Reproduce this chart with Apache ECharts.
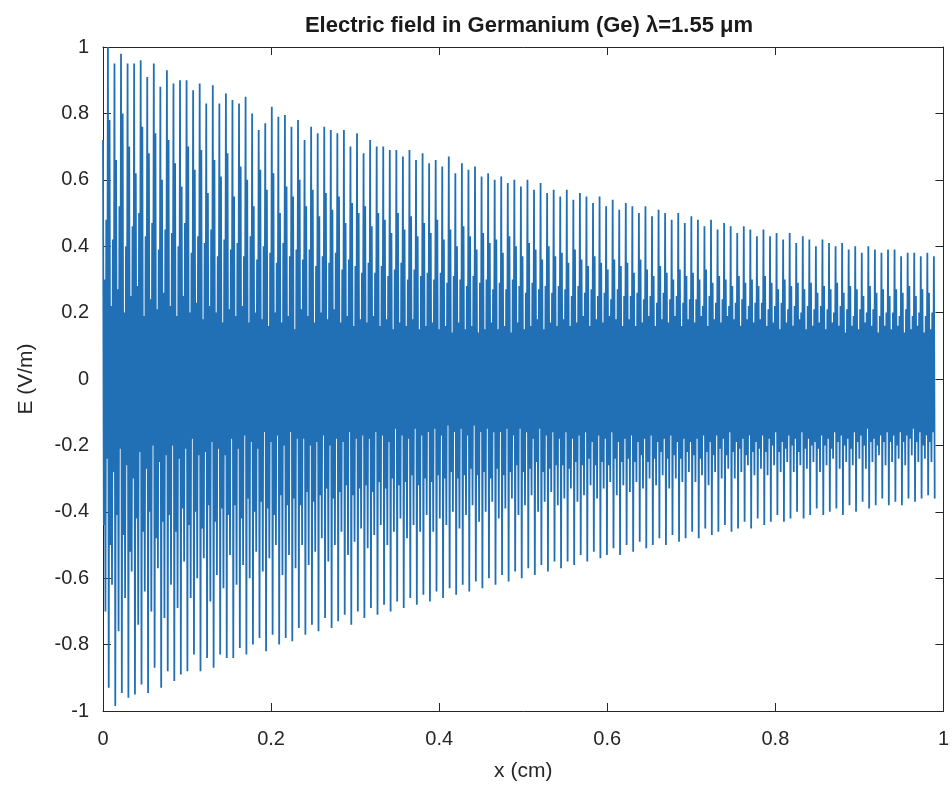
<!DOCTYPE html>
<html>
<head>
<meta charset="utf-8">
<script src="https://cdn.jsdelivr.net/npm/echarts@6/dist/echarts.min.js"></script>
<style>html,body{margin:0;padding:0;background:#fff}#c{width:952px;height:796px}</style>
</head>
<body>
<div id="c"></div>
<script>
// Tick labels
var xTicks = [0, 0.2, 0.4, 0.6, 0.8, 1];
var yTicks = [-1, -0.8, -0.6, -0.4, -0.2, 0, 0.2, 0.4, 0.6, 0.8, 1];

// Sample spacing along x (cm) for the plotted field samples
var xStep = 0.000975;

// Read-off heights of the tall positive spikes (one per visible spike group)
var topPeak = [
 1.00,0.95,0.98,0.95,0.95,0.96,0.91,0.95,0.88,0.93,
 0.89,0.90,0.90,0.87,0.89,0.83,0.885,0.83,0.86,0.84,
 0.83,0.85,0.80,0.75,0.77,0.82,0.79,0.795,0.76,0.78,
 0.72,0.76,0.74,0.76,0.75,0.74,0.75,0.70,0.74,0.68,
 0.72,0.70,0.70,0.69,0.69,0.67,0.69,0.66,0.68,0.65,
 0.66,0.64,0.67,0.62,0.65,0.63,0.64,0.61,0.62,0.60,
 0.61,0.59,0.60,0.58,0.60,0.57,0.59,0.56,0.57,0.55,
 0.57,0.54,0.56,0.55,0.53,0.55,0.52,0.54,0.51,0.53,
 0.52,0.50,0.52,0.49,0.51,0.50,0.48,0.50,0.47,0.49,
 0.48,0.46,0.48,0.45,0.47,0.46,0.44,0.46,0.45,0.43,
 0.45,0.43,0.44,0.42,0.44,0.41,0.43,0.42,0.40,0.42,
 0.41,0.40,0.41,0.39,0.40,0.38,0.40,0.39,0.38,0.39,
 0.39,0.37,0.38,0.38,0.37,0.38,0.37
];
// Read-off depths of the tall negative spikes
var bottomPeak = [
 -0.93,-0.985,-0.946,-0.96,-0.95,-0.92,-0.946,-0.87,-0.93,-0.88,
 -0.91,-0.89,-0.88,-0.83,-0.88,-0.84,-0.87,-0.83,-0.84,-0.84,
 -0.81,-0.83,-0.80,-0.78,-0.82,-0.77,-0.80,-0.78,-0.79,-0.75,
 -0.77,-0.74,-0.76,-0.72,-0.75,-0.73,-0.71,-0.74,-0.70,-0.72,
 -0.69,-0.71,-0.68,-0.70,-0.67,-0.69,-0.66,-0.68,-0.65,-0.67,
 -0.64,-0.66,-0.63,-0.65,-0.62,-0.64,-0.61,-0.63,-0.60,-0.62,
 -0.59,-0.61,-0.58,-0.60,-0.57,-0.59,-0.56,-0.58,-0.55,-0.57,
 -0.55,-0.56,-0.53,-0.55,-0.52,-0.54,-0.53,-0.51,-0.53,-0.50,
 -0.52,-0.49,-0.51,-0.50,-0.48,-0.50,-0.47,-0.49,-0.48,-0.46,
 -0.48,-0.45,-0.47,-0.46,-0.44,-0.46,-0.45,-0.43,-0.45,-0.42,
 -0.44,-0.43,-0.41,-0.43,-0.42,-0.40,-0.42,-0.41,-0.39,-0.41,
 -0.40,-0.39,-0.41,-0.38,-0.40,-0.37,-0.39,-0.38,-0.36,-0.38,
 -0.37,-0.38,-0.36,-0.37,-0.36,-0.35,-0.36
];
// Read-off tops of the shorter (darker) positive lines
var midTop = [
 0.72,0.78,0.66,0.80,0.70,0.62,0.76,0.68,0.74,0.60,
 0.72,0.65,0.58,0.70,0.63,0.69,0.56,0.66,0.61,0.68,
 0.55,0.64,0.60,0.52,0.63,0.57,0.62,0.50,0.58,0.55,
 0.60,0.52,0.57,0.49,0.56,0.51,0.55,0.47,0.53,0.50,
 0.52,0.46,0.50,0.48,0.44,0.50,0.45,0.49,0.43,0.47,
 0.44,0.48,0.42,0.45,0.40,0.46,0.43,0.39,0.44,0.41,
 0.42,0.38,0.43,0.40,0.37,0.41,0.39,0.36,0.40,0.37,
 0.38,0.35,0.39,0.36,0.34,0.37,0.35,0.33,0.36,0.34,
 0.35,0.32,0.36,0.33,0.31,0.34,0.32,0.30,0.33,0.31,
 0.32,0.30,0.33,0.29,0.31,0.30,0.28,0.31,0.29,0.30,
 0.28,0.31,0.29,0.27,0.30,0.28,0.29,0.27,0.29,0.26,
 0.28,0.27,0.29,0.26,0.28,0.27,0.25,0.28,0.26,0.27,
 0.25,0.27,0.26,0.28,0.25,0.27,0.26
];
// Read-off bottoms of the shorter negative lines
var midBottom = [
 -0.70,-0.62,-0.76,-0.66,-0.58,-0.74,-0.64,-0.70,-0.57,-0.72,
 -0.62,-0.69,-0.55,-0.66,-0.60,-0.54,-0.67,-0.59,-0.63,-0.53,
 -0.62,-0.56,-0.60,-0.52,-0.58,-0.54,-0.50,-0.59,-0.53,-0.57,
 -0.50,-0.56,-0.52,-0.48,-0.55,-0.50,-0.46,-0.53,-0.49,-0.45,
 -0.51,-0.47,-0.44,-0.50,-0.46,-0.42,-0.48,-0.44,-0.46,-0.41,
 -0.46,-0.42,-0.44,-0.40,-0.45,-0.41,-0.38,-0.43,-0.40,-0.37,
 -0.42,-0.39,-0.36,-0.41,-0.38,-0.35,-0.40,-0.37,-0.34,-0.38,
 -0.36,-0.33,-0.37,-0.35,-0.32,-0.36,-0.33,-0.31,-0.35,-0.32,
 -0.34,-0.31,-0.33,-0.30,-0.32,-0.29,-0.33,-0.30,-0.31,-0.28,
 -0.31,-0.29,-0.32,-0.28,-0.30,-0.27,-0.30,-0.28,-0.26,-0.29,
 -0.27,-0.29,-0.26,-0.28,-0.25,-0.28,-0.26,-0.27,-0.25,-0.28,
 -0.26,-0.24,-0.27,-0.25,-0.26,-0.24,-0.27,-0.25,-0.23,-0.26,
 -0.25,-0.24,-0.26,-0.23,-0.25,-0.24,-0.25
];
// Read-off tops of the medium-length positive lines
var innerTop = [
 0.48,0.42,0.52,0.40,0.46,0.50,0.43,0.47,0.39,0.45,
 0.44,0.40,0.47,0.38,0.43,0.41,0.45,0.37,0.42,0.39,
 0.41,0.37,0.43,0.36,0.40,0.38,0.35,0.41,0.37,0.39,
 0.36,0.39,0.34,0.37,0.35,0.38,0.33,0.36,0.34,0.32,
 0.35,0.32,0.34,0.31,0.33,0.35,0.30,0.33,0.31,0.32,
 0.30,0.32,0.29,0.31,0.30,0.28,0.31,0.29,0.30,0.27,
 0.29,0.27,0.30,0.28,0.26,0.29,0.27,0.28,0.26,0.28,
 0.27,0.25,0.28,0.26,0.27,0.25,0.26,0.24,0.27,0.25,
 0.25,0.26,0.24,0.25,0.23,0.26,0.24,0.25,0.23,0.24,
 0.24,0.22,0.25,0.23,0.24,0.22,0.23,0.24,0.22,0.23,
 0.23,0.21,0.22,0.23,0.21,0.22,0.20,0.22,0.21,0.22,
 0.21,0.20,0.22,0.21,0.19,0.21,0.20,0.21,0.19,0.20,
 0.20,0.19,0.21,0.19,0.20,0.19,0.20
];
// Read-off bottoms of the medium-length negative lines
var innerBottom = [
 -0.44,-0.50,-0.41,-0.47,-0.52,-0.42,-0.46,-0.40,-0.48,-0.43,
 -0.41,-0.46,-0.39,-0.44,-0.40,-0.45,-0.38,-0.43,-0.39,-0.41,
 -0.38,-0.42,-0.36,-0.40,-0.37,-0.39,-0.41,-0.35,-0.38,-0.36,
 -0.38,-0.34,-0.37,-0.35,-0.33,-0.36,-0.34,-0.32,-0.35,-0.33,
 -0.32,-0.34,-0.31,-0.33,-0.30,-0.32,-0.31,-0.29,-0.32,-0.30,
 -0.31,-0.29,-0.30,-0.28,-0.30,-0.29,-0.27,-0.29,-0.28,-0.30,
 -0.27,-0.29,-0.28,-0.26,-0.28,-0.27,-0.25,-0.28,-0.27,-0.26,
 -0.26,-0.27,-0.25,-0.26,-0.24,-0.26,-0.25,-0.26,-0.24,-0.25,
 -0.24,-0.25,-0.23,-0.25,-0.24,-0.22,-0.24,-0.23,-0.24,-0.22,
 -0.23,-0.24,-0.22,-0.23,-0.21,-0.23,-0.22,-0.21,-0.23,-0.22,
 -0.21,-0.22,-0.20,-0.22,-0.21,-0.20,-0.22,-0.21,-0.20,-0.21,
 -0.20,-0.21,-0.19,-0.20,-0.21,-0.19,-0.20,-0.19,-0.20,-0.19,
 -0.19,-0.20,-0.19,-0.18,-0.19,-0.20,-0.19
];
// Read-off edge of the dense core, upper side
var coreTop = [
 0.30,0.22,0.27,0.20,0.25,0.28,0.19,0.24,0.21,0.26,
 0.22,0.19,0.25,0.20,0.23,0.18,0.22,0.20,0.17,0.21,
 0.19,0.22,0.17,0.20,0.18,0.16,0.20,0.17,0.19,0.15,
 0.21,0.19,0.17,0.20,0.18,0.21,0.17,0.19,0.16,0.18,
 0.17,0.19,0.16,0.18,0.15,0.17,0.16,0.18,0.15,0.16,
 0.17,0.15,0.16,0.14,0.17,0.15,0.16,0.14,0.15,0.17,
 0.15,0.16,0.14,0.17,0.15,0.16,0.18,0.15,0.17,0.16,
 0.18,0.16,0.17,0.19,0.16,0.18,0.17,0.19,0.18,0.16,
 0.18,0.16,0.17,0.19,0.16,0.18,0.17,0.19,0.16,0.18,
 0.17,0.19,0.16,0.18,0.17,0.19,0.18,0.16,0.18,0.17,
 0.18,0.16,0.17,0.15,0.17,0.16,0.18,0.15,0.16,0.17,
 0.15,0.17,0.16,0.14,0.16,0.15,0.17,0.16,0.14,0.16,
 0.15,0.16,0.14,0.15,0.16,0.14,0.15
];
// Read-off edge of the dense core, lower side
var coreBottom = [
 -0.24,-0.28,-0.21,-0.26,-0.30,-0.22,-0.27,-0.20,-0.25,-0.23,
 -0.20,-0.24,-0.21,-0.18,-0.23,-0.22,-0.19,-0.21,-0.23,-0.18,
 -0.21,-0.17,-0.19,-0.21,-0.16,-0.19,-0.17,-0.20,-0.16,-0.18,
 -0.18,-0.20,-0.19,-0.17,-0.20,-0.18,-0.19,-0.16,-0.18,-0.17,
 -0.18,-0.16,-0.17,-0.19,-0.15,-0.17,-0.18,-0.15,-0.17,-0.16,
 -0.15,-0.17,-0.14,-0.16,-0.15,-0.17,-0.14,-0.16,-0.15,-0.16,
 -0.16,-0.15,-0.17,-0.15,-0.16,-0.18,-0.15,-0.17,-0.16,-0.18,
 -0.16,-0.18,-0.17,-0.16,-0.19,-0.17,-0.18,-0.16,-0.19,-0.18,
 -0.17,-0.19,-0.18,-0.17,-0.19,-0.18,-0.17,-0.19,-0.18,-0.19,
 -0.18,-0.17,-0.19,-0.17,-0.18,-0.16,-0.19,-0.18,-0.17,-0.19,
 -0.17,-0.18,-0.16,-0.19,-0.17,-0.18,-0.16,-0.18,-0.19,-0.17,
 -0.18,-0.16,-0.17,-0.18,-0.16,-0.17,-0.15,-0.18,-0.17,-0.16,
 -0.17,-0.16,-0.17,-0.15,-0.16,-0.17,-0.16
];

// Assemble the sampled trace: each spike group holds eight consecutive samples.
var trace = [];
var idx = 0;
for (var k = 0; k < topPeak.length; k++) {
  var grp = [midTop[k], innerBottom[k], coreTop[k], midBottom[k],
             innerTop[k], coreBottom[k], topPeak[k], bottomPeak[k]];
  for (var j = 0; j < grp.length; j++) {
    trace.push([idx * xStep, grp[j]]);
    idx++;
  }
}

var txt = '#262626';
var font = 'Liberation Sans, Arial, Helvetica, sans-serif';
var chart = echarts.init(document.getElementById('c'), null, {renderer: 'canvas'});
chart.setOption({
  animation: false,
  backgroundColor: '#ffffff',
  title: {
    text: 'Electric field in Germanium (Ge) \u03bb=1.55 \u03bcm',
    left: 524, top: 10, textAlign: 'center',
    textStyle: {fontFamily: font, fontSize: 22, fontWeight: 'bold', color: '#1a1a1a'}
  },
  grid: {left: 103, right: 8, top: 47, bottom: 85, containLabel: false},
  xAxis: [{
    type: 'value', min: 0, max: 1, interval: 0.2,
    name: 'x (cm)', nameLocation: 'middle', nameGap: 50,
    nameTextStyle: {fontFamily: font, fontSize: 21, color: txt},
    axisLine: {onZero: false, lineStyle: {color: txt, width: 1}},
    axisTick: {inside: true, length: 8, lineStyle: {color: txt}},
    axisLabel: {fontFamily: font, fontSize: 20, color: txt, margin: 18,
      formatter: function (v) { return String(+v.toFixed(1)); }},
    splitLine: {show: false}
  }, {
    type: 'value', min: 0, max: 1, interval: 0.2, position: 'top',
    axisLine: {onZero: false, lineStyle: {color: txt, width: 1}},
    axisTick: {inside: true, length: 8, lineStyle: {color: txt}},
    axisLabel: {show: false}, splitLine: {show: false}
  }],
  yAxis: [{
    type: 'value', min: -1, max: 1, interval: 0.2,
    name: 'E (V/m)', nameLocation: 'middle', nameGap: 66, nameRotate: 90,
    nameTextStyle: {fontFamily: font, fontSize: 21, color: txt},
    axisLine: {onZero: false, lineStyle: {color: txt, width: 1}},
    axisTick: {inside: true, length: 8, lineStyle: {color: txt}},
    axisLabel: {fontFamily: font, fontSize: 20, color: txt, margin: 14,
      formatter: function (v) { return String(+v.toFixed(1)); }},
    splitLine: {show: false}
  }, {
    type: 'value', min: -1, max: 1, interval: 0.2, position: 'right',
    axisLine: {onZero: false, lineStyle: {color: txt, width: 1}},
    axisTick: {inside: true, length: 8, lineStyle: {color: txt}},
    axisLabel: {show: false}, splitLine: {show: false}
  }],
  series: [{
    type: 'line', xAxisIndex: 0, yAxisIndex: 0,
    data: trace, showSymbol: false, symbol: 'none', sampling: null,
    lineStyle: {color: '#2170b5', width: 1.8}, clip: true
  }]
});
</script>
</body>
</html>
